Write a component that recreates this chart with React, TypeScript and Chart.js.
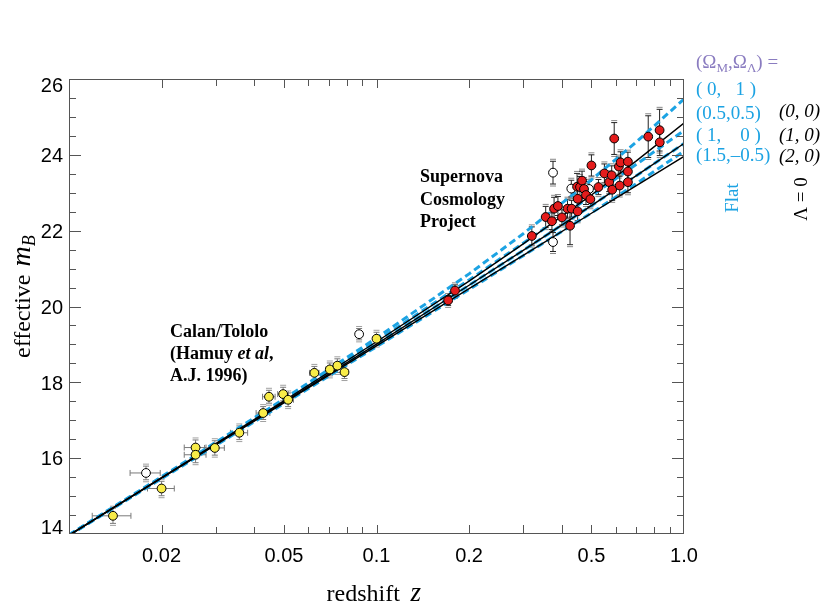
import React, { useEffect, useRef } from 'react';
import { Chart, registerables } from 'chart.js';

Chart.register(...registerables);

// ---------------- data ----------------
// model curves: effective m_B at these redshifts
const modelZ = [0.01, 0.02, 0.05, 0.1, 0.2, 0.3, 0.5, 0.7, 1.0];
const flat_0_1 = [13.98, 15.51, 17.56, 19.17, 20.86, 21.92, 23.34, 24.34, 25.47];
const flat_05_05 = [13.97, 15.49, 17.52, 19.09, 20.70, 21.67, 22.92, 23.75, 24.64];
const flat_1_0 = [13.97, 15.48, 17.48, 19.01, 20.56, 21.48, 22.66, 23.45, 24.30];
const flat_15_m05 = [13.96, 15.46, 17.44, 18.94, 20.45, 21.34, 22.47, 23.24, 24.10];
const lam0_0_0 = [13.97, 15.49, 17.51, 19.07, 20.67, 21.65, 22.94, 23.84, 24.84];
const lam0_1_0 = [13.97, 15.48, 17.48, 19.01, 20.56, 21.48, 22.66, 23.45, 24.30];
const lam0_2_0 = [13.96, 15.47, 17.46, 18.96, 20.47, 21.35, 22.46, 23.19, 23.96];

// Calan/Tololo supernovae (filled yellow)
const calanZ = [0.0139, 0.0200, 0.0258, 0.0258, 0.0298, 0.0358, 0.0428, 0.0447, 0.0497, 0.0516, 0.0628, 0.0705, 0.0746, 0.0787, 0.1000];
const calanM = [14.48, 15.20, 16.28, 16.09, 16.27, 16.67, 17.19, 17.62, 17.69, 17.54, 18.25, 18.34, 18.44, 18.27, 19.15];
const calanErr = [0.20, 0.19, 0.20, 0.21, 0.19, 0.18, 0.17, 0.17, 0.18, 0.18, 0.17, 0.17, 0.18, 0.17, 0.17];
const calanZErr = [0.0020, 0.0020, 0.0021, 0.0021, 0.0022, 0.0023, 0.0022, 0.0021, 0.0020, 0.0021, 0.0022, 0.0021, 0.0020, 0.0021, 0.0020];
// Calan/Tololo excluded (open)
const calanOpenZ = [0.0178, 0.0878];
const calanOpenM = [15.61, 19.27];
const calanOpenErr = [0.18, 0.15];
const calanOpenZErr = [0.0020, 0.0020];

// Supernova Cosmology Project (filled red)
const scpZ = [0.171, 0.180, 0.320, 0.355, 0.372, 0.378, 0.389, 0.401, 0.418, 0.426, 0.431, 0.451, 0.451, 0.449, 0.459, 0.466, 0.473, 0.480, 0.496, 0.500, 0.527, 0.551, 0.571, 0.582, 0.584, 0.593, 0.614, 0.618, 0.622, 0.657, 0.657, 0.657, 0.765, 0.833, 0.834];
const scpM = [20.16, 20.42, 21.86, 22.36, 22.25, 22.58, 22.65, 22.35, 22.58, 22.13, 22.58, 22.51, 22.84, 23.16, 23.15, 23.32, 23.10, 22.94, 22.83, 23.72, 23.15, 23.51, 23.28, 23.46, 23.08, 24.43, 23.69, 23.19, 23.80, 23.82, 23.56, 23.28, 24.48, 24.65, 24.33];
const scpErr = [0.13, 0.15, 0.24, 0.28, 0.22, 0.30, 0.25, 0.20, 0.25, 0.50, 0.22, 0.25, 0.30, 0.35, 0.28, 0.25, 0.25, 0.25, 0.20, 0.28, 0.20, 0.25, 0.25, 0.25, 0.28, 0.42, 0.25, 0.25, 0.28, 0.25, 0.25, 0.28, 0.55, 0.55, 0.35];
// SCP excluded (open)
const scpOpenZ = [0.375, 0.375, 0.430, 0.491];
const scpOpenM = [23.53, 21.70, 23.11, 23.10];
const scpOpenErr = [0.30, 0.25, 0.22, 0.20];

// axes
const xMinorTicks = [0.02, 0.03, 0.04, 0.05, 0.06, 0.07, 0.08, 0.09, 0.1, 0.2, 0.3, 0.4, 0.5, 0.6, 0.7, 0.8, 0.9];
const xTickValues = [0.02, 0.05, 0.1, 0.2, 0.5, 1.0];
const xTickLabels = ['0.02', '0.05', '0.1', '0.2', '0.5', '1.0'];
const yTickValues = [14, 16, 18, 20, 22, 24, 26];

const SERIF = '"Liberation Serif", "Times New Roman", serif';
const SANS = '"Liberation Sans", Arial, Helvetica, sans-serif';
const CYAN = '#1ca3e3';
const PURPLE = '#8a7cc0';

const errorBarPlugin = {
  id: 'errorBars',
  beforeDatasetsDraw(chart: any) {
    const { ctx } = chart;
    const xs = chart.scales.x;
    const ys = chart.scales.y;
    chart.data.datasets.forEach((ds: any) => {
      const eb = ds.errorBars;
      if (!eb) return;
      ctx.save();
      ctx.lineWidth = 1;
      ds.data.forEach((p: any, i: number) => {
        const px = xs.getPixelForValue(p.x);
        const py = ys.getPixelForValue(p.y);
        const e = eb.y[i];
        const t = ys.getPixelForValue(p.y + e);
        const b = ys.getPixelForValue(p.y - e);
        ctx.strokeStyle = eb.color;
        ctx.beginPath();
        ctx.moveTo(px, t);
        ctx.lineTo(px, b);
        ctx.moveTo(px - 3, t);
        ctx.lineTo(px + 3, t);
        ctx.moveTo(px - 3, b);
        ctx.lineTo(px + 3, b);
        ctx.stroke();
        ctx.strokeStyle = eb.cap2;
        ctx.beginPath();
        ctx.moveTo(px - 3, t - 2);
        ctx.lineTo(px + 3, t - 2);
        ctx.moveTo(px - 3, b + 2);
        ctx.lineTo(px + 3, b + 2);
        ctx.stroke();
        if (eb.x) {
          const l = xs.getPixelForValue(p.x - eb.x[i]);
          const r = xs.getPixelForValue(p.x + eb.x[i]);
          ctx.strokeStyle = eb.color;
          ctx.beginPath();
          ctx.moveTo(l, py);
          ctx.lineTo(r, py);
          ctx.moveTo(l, py - 3);
          ctx.lineTo(l, py + 3);
          ctx.moveTo(r, py - 3);
          ctx.lineTo(r, py + 3);
          ctx.stroke();
        }
      });
      ctx.restore();
    });
  },
};

const decorPlugin = {
  id: 'decor',
  afterDraw(chart: any) {
    const { ctx } = chart;
    const xs = chart.scales.x;
    const ys = chart.scales.y;
    const a = chart.chartArea;
    ctx.save();
    // frame
    ctx.strokeStyle = '#555';
    ctx.lineWidth = 1;
    ctx.strokeRect(a.left + 0.5, a.top + 0.5, a.right - a.left - 1, a.bottom - a.top - 1);
    // x ticks (inward, bottom & top)
    ctx.beginPath();
    xMinorTicks.forEach((v) => {
      const px = Math.round(xs.getPixelForValue(v)) + 0.5;
      const len = xTickValues.includes(v) || v === 0.3 || v === 0.4 ? 9 : 7;
      ctx.moveTo(px, a.bottom);
      ctx.lineTo(px, a.bottom - len);
      ctx.moveTo(px, a.top);
      ctx.lineTo(px, a.top + len);
    });
    // y ticks (inward, left & right)
    for (let v = 14.5; v < 26; v += 0.5) {
      const py = Math.round(ys.getPixelForValue(v)) + 0.5;
      const len = Math.abs(v % 2) < 1e-6 ? 12 : 7;
      ctx.moveTo(a.left, py);
      ctx.lineTo(a.left + len, py);
      ctx.moveTo(a.right, py);
      ctx.lineTo(a.right - len, py);
    }
    ctx.stroke();

    // tick labels
    ctx.fillStyle = '#000';
    ctx.font = `20px ${SANS}`;
    ctx.textAlign = 'center';
    ctx.textBaseline = 'alphabetic';
    xTickValues.forEach((v, i) => {
      ctx.fillText(xTickLabels[i], xs.getPixelForValue(v), 561.5);
    });
    ctx.textAlign = 'right';
    yTickValues.forEach((v) => {
      let base = ys.getPixelForValue(v) + 7.3;
      if (base < a.top + 13) base = a.top + 13;
      if (base > a.bottom) base = a.bottom;
      ctx.fillText(String(v), 63, base);
    });

    // axis titles
    ctx.textAlign = 'left';
    ctx.font = `24px ${SERIF}`;
    ctx.fillText('redshift', 326.5, 601);
    ctx.font = `italic 27px ${SERIF}`;
    ctx.fillText('z', 410.5, 601);

    ctx.save();
    ctx.translate(30, 358);
    ctx.rotate(-Math.PI / 2);
    ctx.font = `24px ${SERIF}`;
    ctx.fillText('effective', 0, 0);
    let w = ctx.measureText('effective ').width;
    ctx.font = `italic 28px ${SERIF}`;
    ctx.fillText('m', w + 2, 0);
    w += 2 + ctx.measureText('m').width;
    ctx.font = `italic 18px ${SERIF}`;
    ctx.fillText('B', w, 5);
    ctx.restore();

    // annotations
    ctx.font = `bold 18px ${SERIF}`;
    ctx.fillText('Supernova', 420, 182);
    ctx.fillText('Cosmology', 420, 204.5);
    ctx.fillText('Project', 420, 227);

    ctx.fillText('Calan/Tololo', 170, 336.5);
    ctx.fillText('(Hamuy ', 170, 359);
    let hw = ctx.measureText('(Hamuy ').width;
    ctx.font = `italic bold 18px ${SERIF}`;
    ctx.fillText('et al', 170 + hw, 359);
    hw += ctx.measureText('et al').width;
    ctx.font = `bold 18px ${SERIF}`;
    ctx.fillText(',', 170 + hw, 359);
    ctx.fillText('A.J. 1996)', 170, 381);

    // legend: (Omega_M, Omega_Lambda) =
    ctx.fillStyle = PURPLE;
    let lx = 696;
    const seg = (txt: string, font: string, dy: number) => {
      ctx.font = font;
      ctx.fillText(txt, lx, 68 + dy);
      lx += ctx.measureText(txt).width;
    };
    seg('(Ω', `19px ${SERIF}`, 0);
    seg('M', `13px ${SERIF}`, 4);
    seg(',Ω', `19px ${SERIF}`, 0);
    seg('Λ', `13px ${SERIF}`, 4);
    seg(') =', `19px ${SERIF}`, 0);

    ctx.fillStyle = CYAN;
    ctx.font = `19px ${SERIF}`;
    ctx.fillText('( 0,   1 )', 696, 94.5);
    ctx.fillText('(0.5,0.5)', 696, 119);
    ctx.fillText('( 1,    0 )', 696, 141);
    ctx.fillText('(1.5,–0.5)', 696, 161);

    ctx.fillStyle = '#000';
    ctx.font = `italic 19px ${SERIF}`;
    ctx.fillText('(0, 0)', 779, 117);
    ctx.fillText('(1, 0)', 779, 141);
    ctx.fillText('(2, 0)', 779, 161.5);

    ctx.textAlign = 'center';
    ctx.textBaseline = 'middle';
    ctx.save();
    ctx.translate(733, 198);
    ctx.rotate(-Math.PI / 2);
    ctx.fillStyle = CYAN;
    ctx.font = `19px ${SERIF}`;
    ctx.fillText('Flat', 0, 0);
    ctx.restore();
    ctx.save();
    ctx.translate(802, 199);
    ctx.rotate(-Math.PI / 2);
    ctx.fillStyle = '#000';
    ctx.font = `19px ${SERIF}`;
    ctx.fillText('Λ = 0', 0, 0);
    ctx.restore();

    ctx.restore();
  },
};

const toXY = (zs: number[], ms: number[]) => zs.map((z, i) => ({ x: z, y: ms[i] }));

const lineDs = (label: string, ms: number[], color: string, dashed: boolean, order: number) => ({
  label,
  data: toXY(modelZ, ms),
  showLine: true,
  borderColor: color,
  backgroundColor: color,
  borderWidth: dashed ? 3 : 1.4,
  borderDash: dashed ? [7, 4] : [],
  pointRadius: 0,
  pointHoverRadius: 0,
  tension: 0,
  fill: false,
  order,
});

const R = 4.4;

export default function App() {
  const ref = useRef<HTMLCanvasElement | null>(null);
  useEffect(() => {
    if (!ref.current) return;
    const chart = new Chart(ref.current, {
      type: 'scatter',
      data: {
        datasets: [
          lineDs('Flat (0,1)', flat_0_1, CYAN, true, 3),
          lineDs('Flat (0.5,0.5)', flat_05_05, CYAN, true, 3),
          lineDs('Flat (1,0)', flat_1_0, CYAN, true, 3),
          lineDs('Flat (1.5,-0.5)', flat_15_m05, CYAN, true, 3),
          lineDs('Λ=0 (0,0)', lam0_0_0, '#000', false, 2),
          lineDs('Λ=0 (1,0)', lam0_1_0, '#000', false, 2),
          lineDs('Λ=0 (2,0)', lam0_2_0, '#000', false, 2),
          {
            label: 'Calan/Tololo',
            data: toXY(calanZ, calanM),
            pointRadius: R,
            pointBackgroundColor: '#f8ec48',
            pointBorderColor: '#000',
            pointBorderWidth: 1,
            order: 0,
            errorBars: { y: calanErr, x: calanZErr, color: '#7a7a7a', cap2: '#a0a0a0' },
          } as any,
          {
            label: 'Calan/Tololo excluded',
            data: toXY(calanOpenZ, calanOpenM),
            pointRadius: R,
            pointBackgroundColor: '#fff',
            pointBorderColor: '#000',
            pointBorderWidth: 1,
            order: 0,
            errorBars: { y: calanOpenErr, x: calanOpenZErr, color: '#7a7a7a', cap2: '#a0a0a0' },
          } as any,
          {
            label: 'SCP',
            data: toXY(scpZ, scpM),
            pointRadius: R,
            pointBackgroundColor: '#e41c1c',
            pointBorderColor: '#000',
            pointBorderWidth: 1,
            order: 0,
            errorBars: { y: scpErr, color: '#222', cap2: '#888' },
          } as any,
          {
            label: 'SCP excluded',
            data: toXY(scpOpenZ, scpOpenM),
            pointRadius: R,
            pointBackgroundColor: '#fff',
            pointBorderColor: '#000',
            pointBorderWidth: 1,
            order: 0,
            errorBars: { y: scpOpenErr, color: '#222', cap2: '#888' },
          } as any,
        ],
      },
      options: {
        responsive: false,
        animation: false,
        events: [],
        layout: { padding: { left: 0, top: 79, right: 138, bottom: 0 } },
        plugins: { legend: { display: false }, tooltip: { enabled: false } },
        scales: {
          x: {
            type: 'logarithmic',
            min: 0.01,
            max: 1.0,
            ticks: { display: false },
            grid: { display: false },
            border: { display: false },
            afterFit: (s: any) => {
              s.height = 75;
            },
          },
          y: {
            type: 'linear',
            min: 14,
            max: 26,
            ticks: { display: false },
            grid: { display: false },
            border: { display: false },
            afterFit: (s: any) => {
              s.width = 69;
            },
          },
        },
      } as any,
      plugins: [errorBarPlugin, decorPlugin],
    });
    return () => chart.destroy();
  }, []);
  return (
    <div style={{ position: 'absolute', left: 0, top: 0, width: 822, height: 609, background: '#fff' }}>
      <canvas ref={ref} width={822} height={609} style={{ display: 'block' }} />
    </div>
  );
}
